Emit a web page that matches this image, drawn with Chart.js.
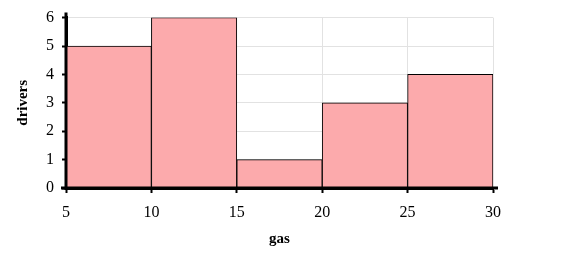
<!DOCTYPE html>
<html>
<head>
<meta charset="utf-8">
<script src="https://cdn.jsdelivr.net/npm/chart.js@4/dist/chart.umd.min.js"></script>
<style>
  html, body { margin: 0; padding: 0; background: #fff; }
  #wrap { width: 574px; height: 260px; }
</style>
</head>
<body>
<div id="wrap"><canvas id="histChart" width="574" height="260"></canvas></div>
<script>
// histogram bins (gas) and counts (drivers)
const binStarts = [5, 10, 15, 20, 25];
const binEnds = [10, 15, 20, 25, 30];
const counts = [5, 6, 1, 3, 4];
const xTicks = [5, 10, 15, 20, 25, 30];
const yTicks = [0, 1, 2, 3, 4, 5, 6];

const points = binStarts.map((s, i) => ({ x: (s + binEnds[i]) / 2, y: counts[i] }));

const serif = "'Liberation Serif', 'Times New Roman', serif";

// axis lines run a few px past the plot area, like the original
const axisOvershoot = {
    id: 'axisOvershoot',
    afterDraw(chart) {
        const { ctx, chartArea: a } = chart;
        ctx.save();
        ctx.strokeStyle = '#000';
        ctx.lineWidth = 3;
        ctx.beginPath();
        ctx.moveTo(a.left - 5, a.bottom);
        ctx.lineTo(a.right + 5, a.bottom);
        ctx.moveTo(a.left, a.bottom + 2);
        ctx.lineTo(a.left, a.top - 5);
        ctx.stroke();
        ctx.restore();
    }
};

const ctx = document.getElementById('histChart').getContext('2d');
new Chart(ctx, {
    type: 'bar',
    data: {
        datasets: [{
            label: 'drivers',
            data: points,
            backgroundColor: 'rgb(252, 170, 172)',
            borderColor: '#000',
            borderWidth: 1,
            barPercentage: 1,
            categoryPercentage: 1,
        }]
    },
    plugins: [axisOvershoot],
    options: {
        responsive: false,
        animation: false,
        layout: { padding: { top: 17, right: 81, left: 10, bottom: 8 } },
        plugins: {
            legend: { display: false },
            tooltip: { enabled: false }
        },
        scales: {
            x: {
                type: 'linear',
                offset: false,
                min: 5,
                max: 30,
                afterBuildTicks: (scale) => { scale.ticks = xTicks.map(v => ({ value: v })); },
                afterFit: (scale) => { scale.height = 64; },
                grid: { offset: false, color: '#e2e2e2', tickColor: '#000', tickLength: 5, tickWidth: 2 },
                border: { color: '#000', width: 3 },
                ticks: { color: '#000', font: { family: serif, size: 16 }, padding: 10, maxRotation: 0 },
                title: { display: true, text: 'gas', color: '#000', font: { family: serif, size: 15, weight: 'bold' }, padding: { top: 6 } }
            },
            y: {
                min: 0,
                max: 6,
                afterBuildTicks: (scale) => { scale.ticks = yTicks.map(v => ({ value: v })); },
                afterFit: (scale) => { scale.width = 56; },
                grid: { color: '#e2e2e2', tickColor: '#000', tickLength: 4, tickWidth: 2 },
                border: { color: '#000', width: 3 },
                ticks: { color: '#000', font: { family: serif, size: 16 }, padding: 8 },
                title: { display: true, text: 'drivers', color: '#000', font: { family: serif, size: 15, weight: 'bold' }, padding: { bottom: 4 } }
            }
        }
    }
});
</script>
</body>
</html>
